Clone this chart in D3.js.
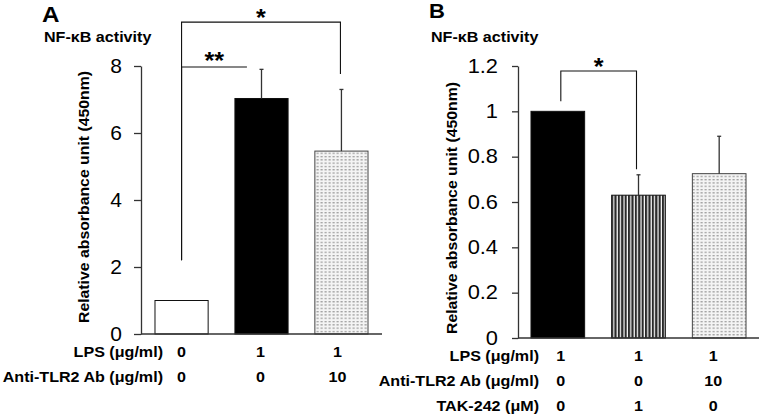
<!DOCTYPE html>
<html><head><meta charset="utf-8">
<script src="https://cdn.jsdelivr.net/npm/d3@7"></script>
<style>
html,body{margin:0;padding:0;background:#fff;}
svg{display:block;font-family:"Liberation Sans",Arial,sans-serif;}
</style></head>
<body><svg id="c" width="759" height="415"></svg>
<script>
// ---- data ----
const groupsA = ["g1","g2","g3"];
const valuesA = [1, 7.03, 5.46];
const errorsA = [0, 0.87, 1.84];
const fillsA = ["white","black","dots"];
const ticksA = [0,2,4,6,8];
const rowLabelsA = ["LPS (μg/ml)","Anti-TLR2 Ab (μg/ml)"];
const rowValuesA = [["0","1","1"],["0","0","10"]];

const groupsB = ["g1","g2","g3"];
const valuesB = [1, 0.63, 0.725];
const errorsB = [0, 0.09, 0.165];
const fillsB = ["black","stripes","dots"];
const ticksB = [0,0.2,0.4,0.6,0.8,1,1.2];
const rowLabelsB = ["LPS (μg/ml)","Anti-TLR2 Ab (μg/ml)","TAK-242 (μM)"];
const rowValuesB = [["1","1","1"],["0","0","10"],["0","1","0"]];

// significance brackets: [leftBar, rightBar, topValue, leftLegBottom, rightLegBottom(null=no leg), label]
const sigA = [[0,2,9.31,2.2,7.76,"*"],[0,1,7.97,2.2,null,"**"]];
const sigB = [[0,1,1.178,1.045,0.745,"*"]];

const SX = 1.15; // horizontal stretch of the reference lettering

const svg = d3.select("#c");
const defs = svg.append("defs");
const pd = defs.append("pattern").attr("id","dots").attr("patternUnits","userSpaceOnUse")
  .attr("width",4).attr("height",3.3);
pd.append("rect").attr("width",4).attr("height",3.3).attr("fill","#f4f4f4");
pd.append("rect").attr("x",0.5).attr("y",1).attr("width",2.2).attr("height",1).attr("fill","#8c8c8c");
const ps = defs.append("pattern").attr("id","stripes").attr("patternUnits","userSpaceOnUse")
  .attr("width",3.4).attr("height",10).attr("x",611);
ps.append("rect").attr("width",3.4).attr("height",10).attr("fill","#fff");
ps.append("rect").attr("x",0).attr("width",2.2).attr("height",10).attr("fill","#2a2a2a");

function fillOf(f){ return f==="dots"?"url(#dots)":f==="stripes"?"url(#stripes)":f; }

function txt(x,y,s,size,anchor,sx,rot){
  return svg.append("text")
    .attr("transform",`translate(${x},${y})${rot?" rotate(-90)":""} scale(${sx},1)`)
    .attr("text-anchor",anchor||"start").attr("font-size",size).attr("font-weight","bold").text(s);
}

function panel(o){
  const x = d3.scaleBand().domain(o.groups).range(o.xr).paddingInner(0.335).paddingOuter(o.po);
  const y = d3.scaleLinear().domain(o.yd).range(o.yr);
  const g = svg.append("g");
  // bars
  g.selectAll("rect.bar").data(o.values).join("rect").attr("class","bar")
    .attr("x",(d,i)=>x(o.groups[i])).attr("width",x.bandwidth())
    .attr("y",d=>y(d)).attr("height",d=>y(0)-y(d))
    .attr("fill",(d,i)=>fillOf(o.fills[i]))
    .attr("stroke",(d,i)=>o.fills[i]==="dots"?"#444":"#111").attr("stroke-width",1);
  // error bars
  o.values.forEach((v,i)=>{
    if(!o.errors[i]) return;
    const cx = x(o.groups[i])+x.bandwidth()/2;
    g.append("line").attr("x1",cx).attr("x2",cx).attr("y1",y(v)).attr("y2",y(v+o.errors[i]))
      .attr("stroke","#333").attr("stroke-width",1.3);
    g.append("line").attr("x1",cx-2).attr("x2",cx+2).attr("y1",y(v+o.errors[i])).attr("y2",y(v+o.errors[i]))
      .attr("stroke","#333").attr("stroke-width",1.3);
  });
  // x axis line
  g.append("line").attr("x1",o.xr[0]).attr("x2",o.xr[1]).attr("y1",y(0)).attr("y2",y(0))
    .attr("stroke","#333").attr("stroke-width",1.3);
  // y axis
  const ax = g.append("g").attr("transform",`translate(${o.xr[0]},0)`)
    .call(d3.axisLeft(y).tickValues(o.ticks).tickSize(o.tickSize).tickSizeOuter(0).tickPadding(o.tickPad)
      .tickFormat(d3.format("~g")));
  ax.select(".domain").attr("stroke","#333").attr("stroke-width",1.3);
  ax.selectAll(".tick line").attr("stroke","#333").attr("stroke-width",1.3);
  ax.selectAll(".tick text").attr("font-size",o.tickFont).attr("fill","#000")
    .attr("font-family","'Liberation Sans',Arial,sans-serif")
    .attr("x",-(o.tickSize+o.tickPad)/o.tickSX).attr("transform",`scale(${o.tickSX},1)`);
  // brackets
  o.sig.forEach(s=>{
    const xl = x(o.groups[s[0]])+x.bandwidth()/2+o.sigOff[0];
    const xrr = s[4]===null ? x(o.groups[s[1]])+12 : x(o.groups[s[1]])+x.bandwidth()/2+o.sigOff[1];
    const pts = [[xl,y(s[3])],[xl,y(s[2])],[xrr,y(s[2])]];
    if(s[4]!==null) pts.push([xrr,y(s[4])]);
    g.append("path").attr("d",d3.line()(pts)).attr("fill","none").attr("stroke","#111").attr("stroke-width",1.1);
    txt((xl+xrr)/2, y(s[2])+(s[5]==="**"?2:4), s[5], 24, "middle", 1.05);
  });
  // panel letter and subtitle
  txt(o.letterX,o.letterY,o.letter,o.letterSize,"start",1.1);
  txt(o.subX,42,"NF-κB activity",14,"start",SX);
  // y label
  txt(o.ylabX,o.ylabY,"Relative absorbance unit (450nm)",14,"middle",1.13,true);
  // row labels
  o.rowLabels.forEach((lab,r)=>{
    txt(o.rowLabX,o.rowY[r],lab,14,"end",SX);
    o.rowValues[r].forEach((v,i)=>{
      txt(x(o.groups[i])+x.bandwidth()/2+o.valOff[i],o.rowY[r],v,14,"middle",SX);
    });
  });
}

panel({groups:groupsA, values:valuesA, errors:errorsA, fills:fillsA, ticks:ticksA,
  xr:[141,382], po:0.175, yd:[0,8], yr:[334,66], tickSize:7, tickPad:12, tickFont:20, tickSX:1.05,
  sig:sigA, sigOff:[0,-1], letter:"A", letterX:42, letterY:22, letterSize:22, subX:44,
  ylabX:89, ylabY:197, rowLabels:rowLabelsA, rowValues:rowValuesA, rowLabX:163,
  rowY:[357,382], valOff:[0,-1,-4]});

panel({groups:groupsB, values:valuesB, errors:errorsB, fills:fillsB, ticks:ticksB,
  xr:[518,759], po:0.161, yd:[0,1.2], yr:[338,66], tickSize:6, tickPad:14, tickFont:19.5, tickSX:1.12,
  sig:sigB, sigOff:[3,-2], letter:"B", letterX:429, letterY:18, letterSize:20, subX:431,
  ylabX:457, ylabY:208, rowLabels:rowLabelsB, rowValues:rowValuesB, rowLabX:539,
  rowY:[361,386,411], valOff:[3,0,-6]});
</script></body></html>
